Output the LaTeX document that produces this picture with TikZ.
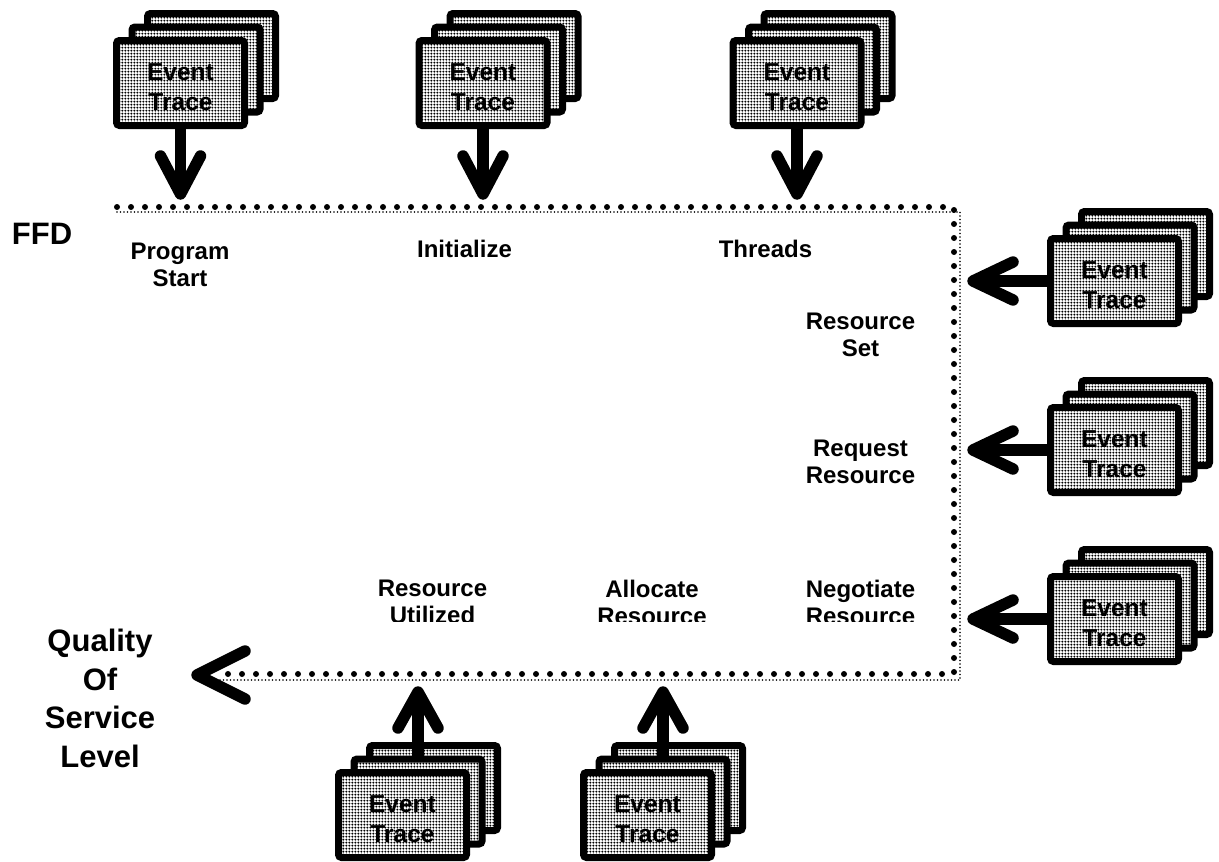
\documentclass[tikz,border=0pt]{standalone}
\usepackage{fontspec}
\setmainfont{Liberation Sans}
\usetikzlibrary{patterns.meta}

% fine stipple used to shade the trace cards
\tikzdeclarepattern{
  name=stipple,
  type=uncolored,
  bounding box={(0pt,0pt) and (3.3pt,3.3pt)},
  tile size={(3.3pt,3.3pt)},
  code={\fill (1.65pt,1.65pt) circle (1.3pt);}
}

\tikzset{
  etbox/.style={draw, line width=7pt, rounded corners=3pt,
    minimum width=128pt, minimum height=85pt, inner sep=0pt,
    fill=white, postaction={pattern=stipple}},
  ettext/.style={font=\fontsize{24.5}{30}\selectfont\bfseries,
    align=center, inner sep=0pt, yshift=-4pt},
  lbl/.style={font=\fontsize{24}{26.5}\selectfont\bfseries,
    align=center, inner sep=0pt, anchor=north},
  big/.style={font=\fontsize{31}{38.5}\selectfont\bfseries,
    align=center, inner sep=0pt, anchor=north},
  shaft/.style={line width=11.5pt},
  barb/.style={line width=11.5pt, line cap=round, line join=round},
  bigdots/.style={line width=6pt, line cap=round, dash pattern=on 0pt off 14pt},
  smalldots/.style={line width=1.7pt, line cap=round, dash pattern=on 0pt off 3.5pt},
  % a stack of three event-trace cards
  stack/.pic={
    \node[etbox] (-back) at (31,-27) {};
    \node[etbox] (-mid) at (15.5,-13.5) {};
    \node[etbox, label={[ettext]center:{Event\\Trace}}] (-front) at (0,0) {};
  }
}

\begin{document}
\begin{tikzpicture}[x=1pt, y=-1pt]
\useasboundingbox (0,0) rectangle (1219,862);

% flow boundary: a row of large dots over a row of fine dots
\coordinate (fend) at (218,674);
\draw[bigdots] (117,207) -- (954,207) -- (954,674) -- (fend);
\draw[smalldots] (117,212) -- (960,212) -- (960,680) -- (218,680);

% outgoing arrowhead towards the service level
\coordinate (qtip) at (197,675);
\draw[barb] (qtip) ++(48,-24) -- (qtip) -- ++(48,24);

% trace stacks
\pic (s1) at (180.5,83) {stack};
\pic (s2) at (483,83) {stack};
\pic (s3) at (797,83) {stack};
\pic (r1) at (1114.5,281) {stack};
\pic (r2) at (1114.5,450) {stack};
\pic (r3) at (1114.5,619) {stack};
\pic (b1) at (402.5,815) {stack};
\pic (b2) at (647.5,815) {stack};

% arrow tips on the boundary
\coordinate (t1) at (180.5,194);
\coordinate (t2) at (483,194);
\coordinate (t3) at (797,194);
\coordinate (u1) at (973,281);
\coordinate (u2) at (973,450);
\coordinate (u3) at (973,619);
\coordinate (v1) at (418,692);
\coordinate (v2) at (663,692);

% top inputs
\foreach \s/\t in {s1/t1, s2/t2, s3/t3}{
  \draw[shaft] (\s-front.south) -- (\t);
  \draw[barb] (\t) ++(-20,-38) -- (\t) -- ++(20,-38);
}
% right inputs
\foreach \s/\t in {r1/u1, r2/u2, r3/u3}{
  \draw[shaft] (\s-front.west) -- (\t);
  \draw[barb] (\t) ++(40,-19) -- (\t) -- ++(40,19);
}
% bottom inputs
\foreach \s/\t in {b1/v1, b2/v2}{
  \draw[shaft] (\s-mid.north) -- (\t);
  \draw[barb] (\t) ++(-20,36) -- (\t) -- ++(20,36);
}

% stage labels
\node[big] (ffd) at (42,223) {FFD};
\node[big] (qos) at (100,629) {Quality\\Of\\Service\\Level};
\node[lbl] (lstart) at (180,243) {Program\\Start};
\node[lbl] (linit) at (464.5,240) {Initialize};
\node[lbl] (lthr) at (765.5,240) {Threads};
\node[lbl] (lset) at (860.5,313) {Resource\\Set};
\node[lbl] (lreq) at (860.5,440) {Request\\Resource};
% the lower labels sit in boxes that trim their last line
\begin{scope}
  \clip (0,0) rectangle (1219,621.5);
  \node[lbl] (lneg) at (860.5,580) {Negotiate\\Resource};
  \node[lbl] (lutil) at (432.5,580) {Resource\\Utilized};
  \node[lbl] (lalloc) at (652,580) {Allocate\\Resource};
\end{scope}
\end{tikzpicture}
\end{document}
